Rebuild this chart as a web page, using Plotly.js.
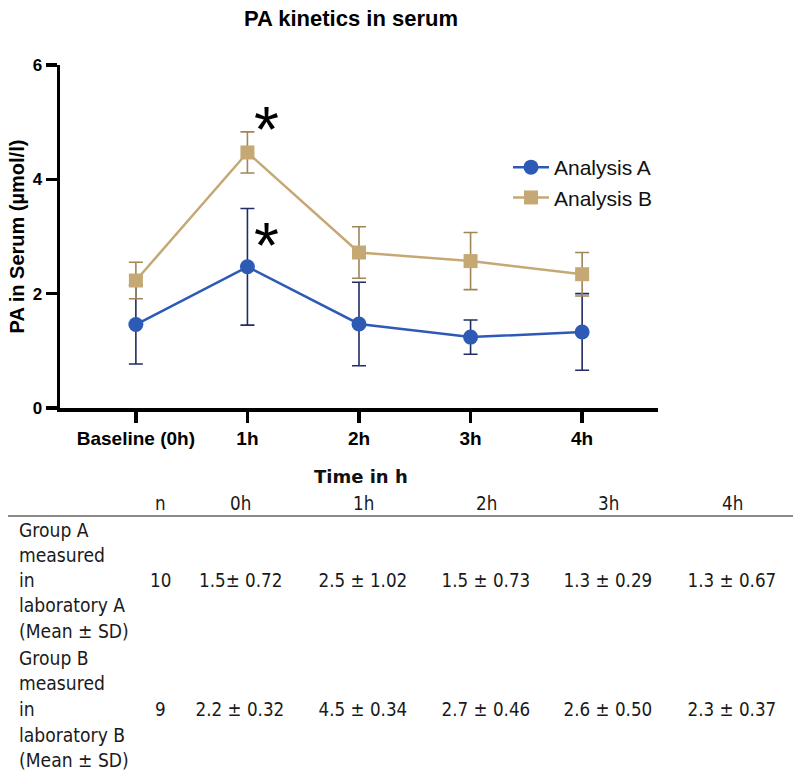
<!DOCTYPE html>
<html>
<head>
<meta charset="utf-8">
<script src="https://cdn.plot.ly/plotly-3.0.1.min.js"></script>
<style>html,body{margin:0;padding:0;background:#fff;}#chart{width:796px;height:777px;}</style>
</head>
<body>
<div id="chart"></div>
<script>
// ---- data ----
const categories = ["Baseline (0h)", "1h", "2h", "3h", "4h"];
const meanA = [1.46, 2.47, 1.47, 1.24, 1.33];
const sdA = [0.69, 1.02, 0.73, 0.30, 0.67];
const meanB = [2.23, 4.47, 2.72, 2.57, 2.34];
const sdB = [0.32, 0.36, 0.45, 0.50, 0.38];
const seriesNames = ["Analysis A", "Analysis B"];
const yTicks = [0, 2, 4, 6];
const tableCols = ["n", "0h", "1h", "2h", "3h", "4h"];
const groupALabel = ["Group A", "measured", "in", "laboratory A", "(Mean \u00b1 SD)"];
const groupBLabel = ["Group B", "measured", "in", "laboratory B", "(Mean \u00b1 SD)"];
const groupARow = ["10", "1.5\u00b1 0.72", "2.5 \u00b1 1.02", "1.5 \u00b1 0.73", "1.3 \u00b1 0.29", "1.3 \u00b1 0.67"];
const groupBRow = ["9", "2.2 \u00b1 0.32", "4.5 \u00b1 0.34", "2.7 \u00b1 0.46", "2.6 \u00b1 0.50", "2.3 \u00b1 0.37"];
const starIdx = 1;

// ---- layout helpers (pixel -> paper) ----
const W = 796, H = 777, L = 60, R = 138, T = 65, B = 369;
const pw = W - L - R, ph = H - T - B;
const px = x => (x - L) / pw;
const py = y => (H - B - y) / ph;

const blue = "#2D5AB5", navy = "#1F2D62", tan = "#C6A874", tanDark = "#A08556";
const sans = "Liberation Sans, Arial, Helvetica, sans-serif";

const traces = [
  {
    x: categories, y: meanA, name: seriesNames[0], type: "scatter", mode: "lines+markers",
    line: {color: blue, width: 2.5},
    marker: {symbol: "circle", size: 15, color: blue},
    error_y: {type: "data", array: sdA, visible: true, color: navy, thickness: 1.6, width: 7}
  },
  {
    x: categories, y: meanB, name: seriesNames[1], type: "scatter", mode: "lines+markers",
    line: {color: tan, width: 2.5},
    marker: {symbol: "square", size: 14, color: tan},
    error_y: {type: "data", array: sdB, visible: true, color: tanDark, thickness: 1.6, width: 7}
  }
];

const tableFont = {family: "DejaVu Sans, Verdana, sans-serif", size: 20, color: "#1a1a1a"};
const colX = [160, 240, 363, 486, 608, 732];
const ann = [];
const leftIdx = [], centerIdx = [];
// asterisks
ann.push({x: categories[starIdx], y: meanB[starIdx] + sdB[starIdx], xref: "x", yref: "y", text: "*", showarrow: false,
  xshift: 19, yshift: 2, font: {family: sans, size: 64, color: "#000"}});
ann.push({x: categories[starIdx], y: meanA[starIdx] + sdA[starIdx], xref: "x", yref: "y", text: "*", showarrow: false,
  xshift: 19, yshift: -38, font: {family: sans, size: 64, color: "#000"}});
// table
function addCenter(t, x, y) { centerIdx.push(ann.length); ann.push({x: px(x), y: py(y), xref: "paper", yref: "paper", xanchor: "center", yanchor: "middle", text: t, showarrow: false, font: tableFont}); }
function addLeft(t, x, y) { leftIdx.push(ann.length); ann.push({x: px(x), y: py(y), xref: "paper", yref: "paper", xanchor: "left", yanchor: "middle", text: t, showarrow: false, font: tableFont}); }
ann.push({x: px(361), y: py(476), xref: "paper", yref: "paper", xanchor: "center", yanchor: "middle", text: "<b>Time in h</b>", showarrow: false,
  font: {family: "DejaVu Sans, Verdana, sans-serif", size: 18, color: "#111"}});
tableCols.forEach((c, i) => addCenter(c, colX[i], 503));
const aLines = [530, 555, 580, 605, 631];
const bLines = [658, 683, 709, 735, 760];
groupALabel.forEach((t, i) => addLeft(t, 17, aLines[i]));
groupBLabel.forEach((t, i) => addLeft(t, 17, bLines[i]));
groupARow.forEach((t, i) => addCenter(t, colX[i], aLines[2]));
groupBRow.forEach((t, i) => addCenter(t, colX[i], bLines[2]));

// condensed look of the table typeface
const css = centerIdx.map(i => `.annotation[data-index="${i}"] text`).join(",") +
  "{transform-box:fill-box;transform-origin:center;transform:scaleX(0.84);}" +
  leftIdx.map(i => `.annotation[data-index="${i}"] text`).join(",") +
  "{transform-box:fill-box;transform-origin:left center;transform:scaleX(0.86);}";
const st = document.createElement("style"); st.textContent = css; document.head.appendChild(st);

const layout = {
  width: W, height: H,
  margin: {l: L, r: R, t: T, b: B, pad: 0},
  paper_bgcolor: "#fff", plot_bgcolor: "#fff",
  showlegend: true,
  title: {text: "<b>PA kinetics in serum</b>", xref: "container", x: 351 / W, xanchor: "center", yref: "container", y: 1 - 18 / H, yanchor: "middle",
    font: {family: sans, size: 22, color: "#000"}},
  xaxis: {
    type: "category", range: [-0.68, 4.68], showline: true, linecolor: "#000", linewidth: 3.5,
    ticks: "outside", ticklen: 11, tickwidth: 3.5, tickcolor: "#000", showgrid: false, zeroline: false,
    tickfont: {family: sans, size: 19, color: "#000", weight: "bold"}
  },
  yaxis: {
    range: [0, 6], tickvals: yTicks, showline: true, linecolor: "#000", linewidth: 3.5,
    ticks: "outside", ticklen: 11, tickwidth: 3.5, tickcolor: "#000", showgrid: false, zeroline: false,
    tickfont: {family: sans, size: 17, color: "#000", weight: "bold"},
    title: {text: "<b>PA in Serum (\u00b5mol/l)</b>", standoff: 3,
      font: {family: sans, size: 20, color: "#000"}}
  },
  legend: {x: px(508), y: py(147), xanchor: "left", yanchor: "top", bgcolor: "rgba(0,0,0,0)",
    traceorder: "grouped", tracegroupgap: 9, itemwidth: 36,
    font: {family: sans, size: 21, color: "#111"}},
  annotations: ann,
  shapes: [{type: "line", xref: "paper", yref: "paper", x0: px(8), x1: px(793), y0: py(516), y1: py(516),
    line: {color: "#8a8a8a", width: 2}}],
  hovermode: false
};

Plotly.newPlot("chart", traces, layout, {displayModeBar: false, staticPlot: true});
</script>
</body>
</html>
